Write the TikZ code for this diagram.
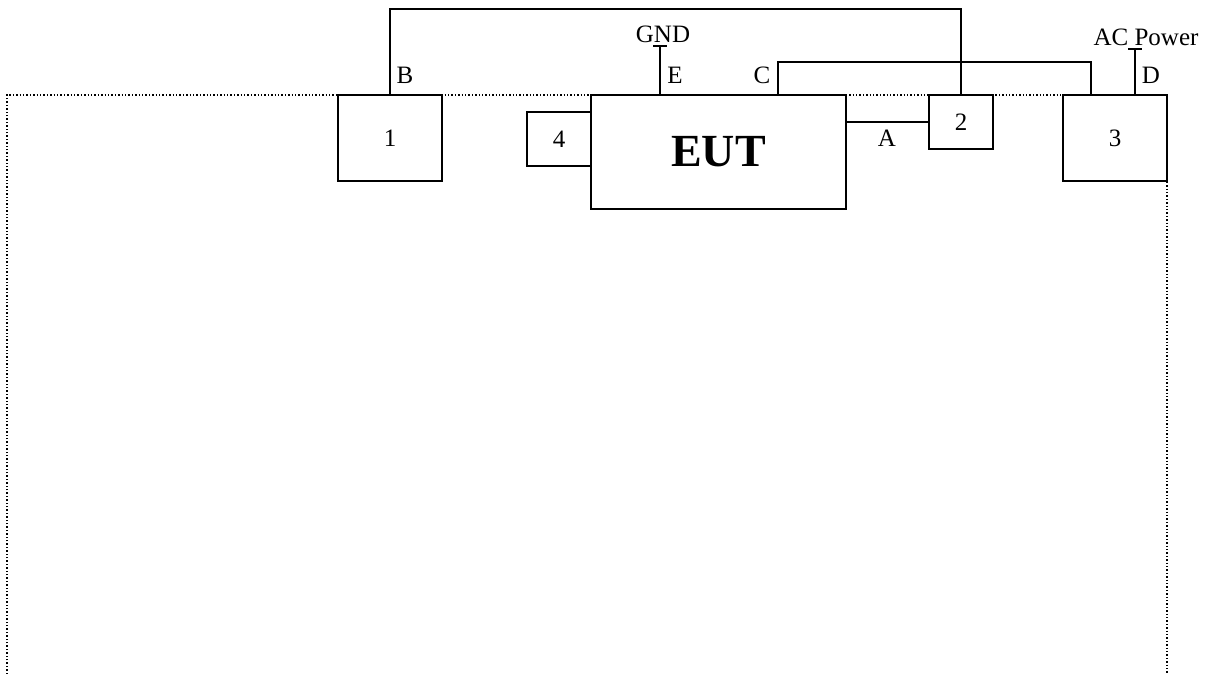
\documentclass[tikz,border=0pt]{standalone}
\usepackage{fontspec}
\setmainfont{Liberation Serif}
\usetikzlibrary{calc,positioning}
\tikzset{
  unit/.style={draw, line width=0.8pt, inner sep=0pt, font=\fontsize{12.5}{14}\selectfont},
  eutbox/.style={draw, line width=0.8pt, inner sep=0pt, font=\fontsize{23}{26}\selectfont\bfseries},
  lbl/.style={inner sep=0pt, font=\fontsize{12.5}{14}\selectfont},
  cable/.style={line width=0.8pt},
  frame/.style={line width=0.7pt, densely dotted}
}
\begin{document}
\begin{tikzpicture}[x=0.5pt, y=-0.5pt]
  \useasboundingbox (0,0) rectangle (1211,674);

  % table outline
  \coordinate (ftl) at (7,95);
  \coordinate (ftr) at (1167,95);
  \coordinate (fbl) at (7,674);
  \coordinate (fbr) at (1167,674);
  \draw[frame] (fbl) -- (ftl) -- (ftr) -- (fbr);

  \node[unit, minimum width=52pt, minimum height=43pt] (u1) at (390,138) {1};
  \node[eutbox, minimum width=127.5pt, minimum height=57pt] (eut) at (718.5,152) {EUT};
  \node[unit, minimum width=32pt, minimum height=27pt] (u4) at (559,139) {4};
  \node[unit, minimum width=32pt, minimum height=27pt] (u2) at (961,122) {2};
  \node[unit, minimum width=52pt, minimum height=43pt] (u3) at (1115,138) {3};

  \node[lbl] (gnd) at (663,34) {GND};
  \node[lbl] (acpow) at (1146,37) {AC Power};

  % cables
  \coordinate (btop) at (960,9);
  \draw[cable] (u1.north) |- (u2.north |- btop) -- (u2.north);
  \coordinate (cl) at ($(eut.north west)+(188,0)$);
  \coordinate (cr) at ($(u3.north west)+(29,0)$);
  \draw[cable] (cl) -- ++(0,-32) -| (cr);
  \draw[cable] (u2.west -| eut.east) -- (u2.west);

  % ground and mains
  \coordinate (ebot) at ($(eut.north west)+(70,0)$);
  \coordinate (etee) at ($(ebot)+(0,-48)$);
  \draw[cable] (ebot) -- (etee);
  \draw[cable] ($(etee)+(-7,0)$) -- ($(etee)+(7,0)$);
  \coordinate (dbot) at ($(u3.north west)+(73,0)$);
  \coordinate (dtee) at ($(dbot)+(0,-45)$);
  \draw[cable] (dbot) -- (dtee);
  \draw[cable] ($(dtee)+(-7,0)$) -- ($(dtee)+(7,0)$);

  \node[lbl] (lb) at (405,75) {B};
  \node[lbl] (lc) at (762,75) {C};
  \node[lbl] (le) at (675,75) {E};
  \node[lbl] (ld) at (1151,75) {D};
  \node[lbl] (la) at (887,138) {A};
\end{tikzpicture}
\end{document}
